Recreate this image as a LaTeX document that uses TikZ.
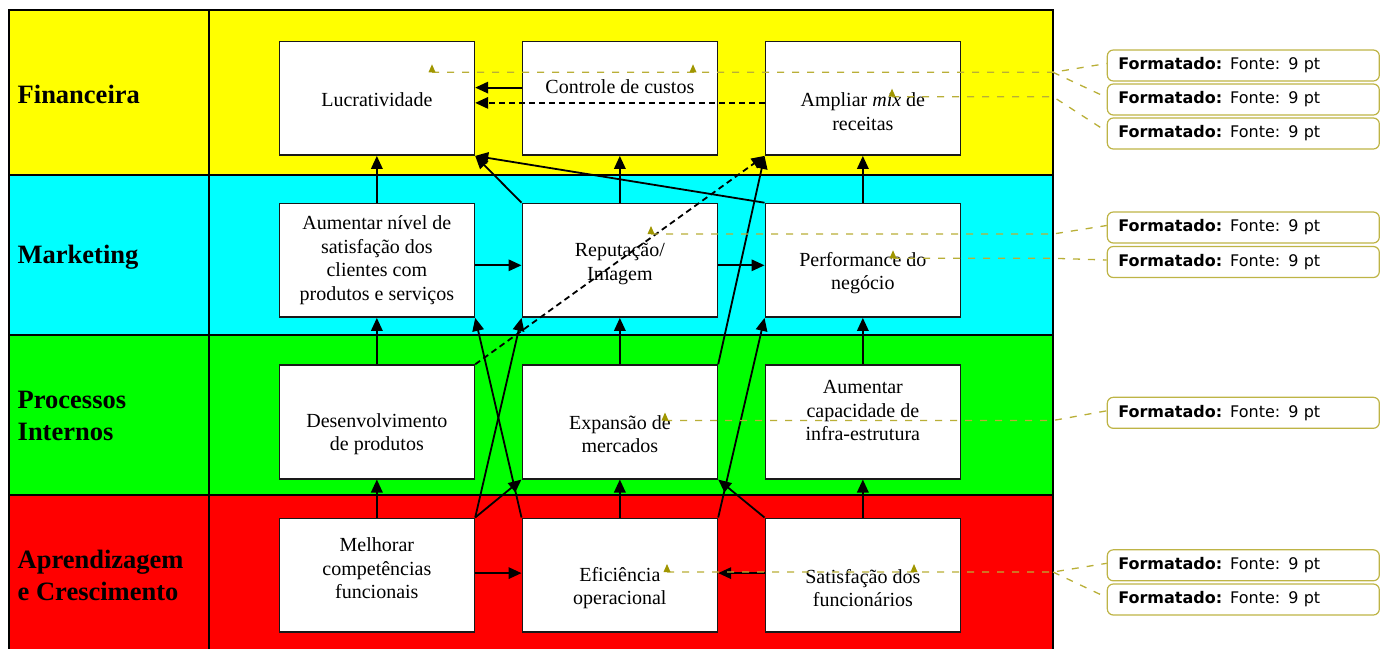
\documentclass[tikz,border=0pt]{standalone}
\usepackage{fontspec}
\setmainfont{Liberation Serif}
\newfontfamily\notefont{DejaVu Sans}
\usetikzlibrary{arrows.meta,calc}
\definecolor{bandyellow}{RGB}{255,255,0}
\definecolor{bandcyan}{RGB}{0,255,255}
\definecolor{bandgreen}{RGB}{0,255,0}
\definecolor{bandred}{RGB}{255,0,0}
\definecolor{noteline}{RGB}{185,175,55}
\definecolor{notemark}{RGB}{160,150,0}
\definecolor{noteedge}{RGB}{190,180,70}
\tikzset{
  bandline/.style={draw=black, line width=2pt},
  kbox/.style={draw=black!90, line width=1.7pt, fill=white, minimum width=195pt, minimum height=113.5pt, anchor=north west, inner sep=0pt},
  boxtext/.style={align=center, font=\fontsize{20}{23.5}\selectfont, inner sep=0pt},
  lane/.style={align=left, anchor=west, font=\bfseries\fontsize{26.5}{32}\selectfont, inner sep=0pt},
  arr/.style={line width=1.8pt, -{Triangle[length=13pt,width=11.5pt]}},
  darr/.style={arr, dash pattern=on 6pt off 4pt},
  cline/.style={noteline, line width=1.3pt, dash pattern=on 7pt off 8pt, rounded corners=4pt},
  cnote/.style={draw=noteedge, line width=1.2pt, rounded corners=6pt, fill=white, anchor=west, minimum height=31pt, text width=250pt, inner xsep=11pt, inner ysep=0pt, align=left, font=\notefont\fontsize{16}{19}\selectfont},
}
\newcommand\cmarker[1]{\fill[notemark] ($(#1)+(-3.5,0)$) -- ++(7,0) -- ++(-3.5,-8) -- cycle;}
\begin{document}
\begin{tikzpicture}[x=1pt,y=-1pt]
\useasboundingbox (0,0) rectangle (1380,648);
% bands
\fill[bandyellow] (9,10) rectangle (1053,175);
\fill[bandcyan] (9,175) rectangle (1053,335);
\fill[bandgreen] (9,335) rectangle (1053,495);
\fill[bandred] (9,495) rectangle (1053,652);
\draw[bandline] (9,10) -- (1053,10);
\draw[bandline] (9,175) -- (1053,175);
\draw[bandline] (9,335) -- (1053,335);
\draw[bandline] (9,495) -- (1053,495);
\draw[bandline] (9,9) -- (9,652);
\draw[bandline] (209,10) -- (209,652);
\draw[bandline] (1053,9) -- (1053,652);
% lane labels
\node[lane] (l1) at (17.5,94.5) {Financeira};
\node[lane] (l2) at (17.5,257) {Marketing};
\node[lane] (l3) at (17.5,416) {Processos\\Internos};
\node[lane] (l4) at (17.5,575) {Aprendizagem\\e Crescimento};
% boxes
\node[kbox] (b11) at (278.5,40.7) {};
\node[kbox] (b12) at (521.5,40.7) {};
\node[kbox] (b13) at (764.5,40.7) {};
\node[kbox] (b21) at (278.5,202.7) {};
\node[kbox] (b22) at (521.5,202.7) {};
\node[kbox] (b23) at (764.5,202.7) {};
\node[kbox] (b31) at (278.5,364.3) {};
\node[kbox] (b32) at (521.5,364.3) {};
\node[kbox] (b33) at (764.5,364.3) {};
\node[kbox] (b41) at (278.5,517.5) {};
\node[kbox] (b42) at (521.5,517.5) {};
\node[kbox] (b43) at (764.5,517.5) {};
% texts
\node[boxtext] (t11) at ([yshift=-1.6pt]b11.center) {Lucratividade};
\node[boxtext] (t12) at ([yshift=11.4pt]b12.center) {Controle de custos};
\node[boxtext] (t13) at ([yshift=-13.6pt]b13.center) {Ampliar \textit{mix} de\\receitas};
\node[boxtext] (t21) at ([yshift=0pt]b21.center) {Aumentar nível de\\satisfação dos\\clientes com\\produtos e serviços};
\node[boxtext] (t22) at ([yshift=-3.6pt]b22.center) {Reputação/\\Imagem};
\node[boxtext] (t23) at ([yshift=-12.6pt]b23.center) {Performance do\\negócio};
\node[boxtext] (t31) at ([yshift=-12.5pt]b31.center) {Desenvolvimento\\de produtos};
\node[boxtext] (t32) at ([yshift=-12.5pt]b32.center) {Expansão de\\mercados};
\node[boxtext] (t33) at ([yshift=11.3pt]b33.center) {Aumentar\\capacidade de\\infra-estrutura};
\node[boxtext] (t41) at ([yshift=6.7pt]b41.center) {Melhorar\\competências\\funcionais};
\node[boxtext] (t42) at ([yshift=-13pt]b42.center) {Eficiência\\operacional};
\node[boxtext] (t43) at ([yshift=-13pt]b43.center) {Satisfação dos\\funcionários};
% connectors row 1
\draw[arr] ([yshift=10.7pt]b12.west) -- ([yshift=10.7pt]b11.east);
\draw[darr] ([yshift=-4.6pt]b13.west) -- ([yshift=-4.6pt]b11.east);
% vertical connectors
\draw[arr] (b21.north) -- (b11.south);
\draw[arr] (b22.north) -- (b12.south);
\draw[arr] (b23.north) -- (b13.south);
\draw[arr] (b31.north) -- (b21.south);
\draw[arr] (b32.north) -- (b22.south);
\draw[arr] (b33.north) -- (b23.south);
\draw[arr] (b41.north) -- (b31.south);
\draw[arr] (b42.north) -- (b32.south);
\draw[arr] (b43.north) -- (b33.south);
% row 2 horizontals
\draw[arr] ([yshift=-5pt]b21.east) -- ([yshift=-5pt]b22.west);
\draw[arr] ([yshift=-5pt]b22.east) -- ([yshift=-5pt]b23.west);
% row 4 horizontals
\draw[arr] ([yshift=2pt]b41.east) -- ([yshift=2pt]b42.west);
\draw[arr] ([yshift=2pt]b43.west) -- ([yshift=2pt]b42.east);
% diagonals
\draw[arr] (b22.north west) -- (b11.south east);
\draw[arr] (b23.north west) -- (b11.south east);
\draw[darr] (b31.north east) -- (b13.south west);
\draw[arr] (b32.north east) -- (b13.south west);
\draw[arr] (b41.north east) -- (b22.south west);
\draw[arr] (b41.north east) -- (b32.south west);
\draw[arr] (b42.north west) -- (b21.south east);
\draw[arr] (b42.north east) -- (b23.south west);
\draw[arr] (b43.north west) -- (b32.south east);
% comment balloons
\node[cnote] (n1) at (1106.7,65.5) {\textbf{Formatado:} Fonte: 9 pt};
\node[cnote] (n2) at (1106.7,99.5) {\textbf{Formatado:} Fonte: 9 pt};
\node[cnote] (n3) at (1106.7,133.5) {\textbf{Formatado:} Fonte: 9 pt};
\node[cnote] (n4) at (1106.7,227.5) {\textbf{Formatado:} Fonte: 9 pt};
\node[cnote] (n5) at (1106.7,262) {\textbf{Formatado:} Fonte: 9 pt};
\node[cnote] (n6) at (1106.7,412.8) {\textbf{Formatado:} Fonte: 9 pt};
\node[cnote] (n7) at (1106.7,565.3) {\textbf{Formatado:} Fonte: 9 pt};
\node[cnote] (n8) at (1106.7,599.5) {\textbf{Formatado:} Fonte: 9 pt};
% comment anchors
\coordinate (m1) at (432,72.3);
\coordinate (m2) at (693,72.3);
\coordinate (m3) at (892,96.7);
\coordinate (m4) at (651,234);
\coordinate (m5) at (893,258.3);
\coordinate (m6) at (665,420.5);
\coordinate (m7) at (667,572);
\coordinate (m8) at (914,572);
\coordinate (e1) at (1053,72.3);
\coordinate (e3) at (1053,96.7);
\coordinate (e4) at (1053,234);
\coordinate (e5) at (1053,258.3);
\coordinate (e6) at (1053,420.5);
\coordinate (e7) at (1053,572);
\draw[cline] (m1) -- (e1) -- ([yshift=2pt]n1.west);
\draw[cline] (e1) -- ([yshift=2pt]n2.west);
\draw[cline] (m3) -- (e3) -- ([yshift=2pt]n3.west);
\draw[cline] (m4) -- (e4) -- ([yshift=2pt]n4.west);
\draw[cline] (m5) -- (e5) -- ([yshift=2pt]n5.west);
\draw[cline] (m6) -- (e6) -- ([yshift=2pt]n6.west);
\draw[cline] (m7) -- (e7) -- ([yshift=2pt]n7.west);
\draw[cline] (e7) -- ([yshift=2pt]n8.west);
\cmarker{m1}
\cmarker{m2}
\cmarker{m3}
\cmarker{m4}
\cmarker{m5}
\cmarker{m6}
\cmarker{m7}
\cmarker{m8}
\end{tikzpicture}
\end{document}
